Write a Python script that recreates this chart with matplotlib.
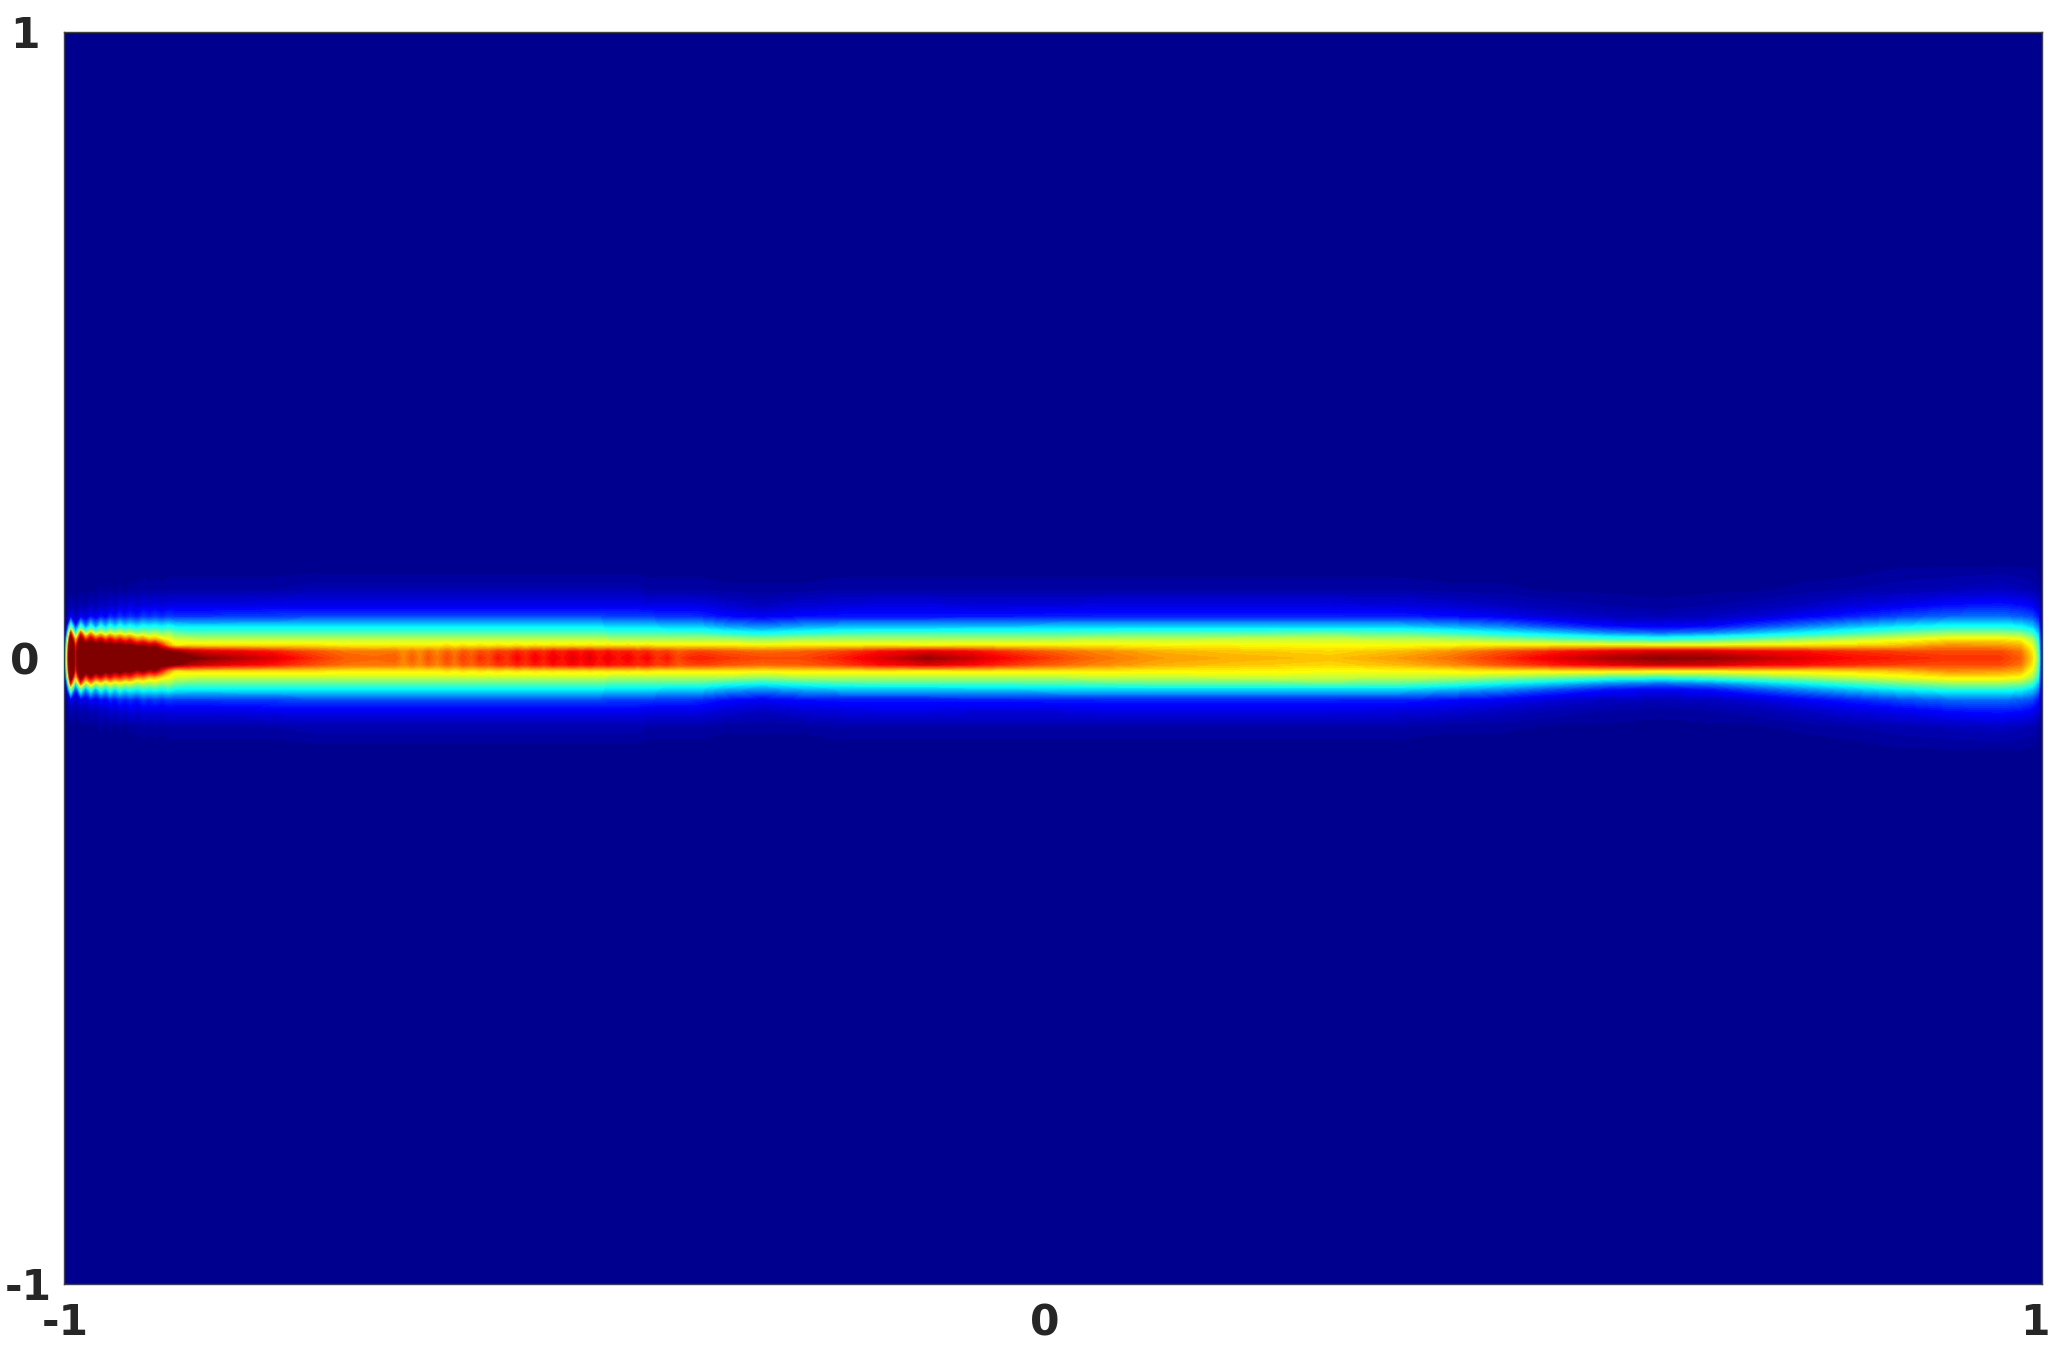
#!/usr/bin/env python

'''
Beam intensity map on [-1, 1] x [-1, 1], values read off the picture.
Columns are percent of full scale at the offsets in y_offsets, mirrored about y = 0.
Values over 100 saturate, they only keep the crests flat up to the thin troughs.
'''

import matplotlib
matplotlib.use('Agg')
import matplotlib.pyplot as plt
import matplotlib.transforms as mtrans
from matplotlib.colors import LinearSegmentedColormap
import numpy as np

#-----------------------------------------------------------------------------#
# data

y_offsets = [0.0, 0.01, 0.02, 0.03, 0.04, 0.05, 0.066, 0.084, 0.11, 0.15]

# the lobes at the entry side
entry_x = [
    -1.0, -0.9975, -0.9932, -0.9882, -0.9831, -0.9781, -0.9730, -0.9679, -0.9629,
    -0.9578, -0.9535, -0.9484, -0.9434, -0.9383, -0.9333, -0.9262, -0.9201,
    -0.9141, -0.9080, -0.9009, -0.8948, -0.8878,
]
entry_columns = [
    [0, 0, 0, 0, 0, 0, 0, 0, 0, 0],
    [55, 50, 42, 30, 16, 6, 2, 0, 0, 0],
    [130, 130, 125, 110, 85, 50, 12, 5, 1, 0],
    [85, 85, 80, 62, 35, 15, 5, 2, 0, 0],
    [130, 130, 125, 105, 80, 45, 12, 5, 1, 0],
    [110, 110, 105, 80, 50, 25, 8, 3, 1, 0],
    [130, 130, 120, 95, 70, 42, 14, 6, 1, 0],
    [115, 115, 105, 82, 52, 28, 10, 4, 1, 0],
    [130, 130, 115, 90, 63, 42, 15, 7, 2, 0],
    [115, 115, 102, 80, 52, 32, 12, 5, 1, 0],
    [125, 125, 108, 88, 62, 42, 17, 8, 2, 0],
    [115, 115, 100, 80, 55, 34, 14, 6, 1, 0],
    [125, 125, 106, 84, 60, 42, 18, 9, 2, 0],
    [115, 115, 98, 78, 55, 36, 15, 7, 1, 0],
    [120, 120, 103, 82, 58, 40, 18, 10, 2, 0],
    [110, 110, 94, 72, 52, 36, 15, 8, 2, 0],
    [115, 115, 100, 75, 55, 40, 19, 10, 3, 0],
    [110, 108, 92, 68, 52, 38, 17, 9, 2, 0],
    [115, 110, 96, 70, 55, 40, 19, 10, 3, 0],
    [105, 104, 84, 64, 50, 37, 17, 9, 2, 0],
    [110, 104, 72, 62, 53, 40, 19, 10, 3, 0],
    [105, 100, 64, 58, 48, 37, 18, 10, 3, 0],
]

# fading core before the ripples
fade_x = [-0.8726, -0.8554, -0.8220, -0.7887, -0.7513, -0.7159, -0.6856]
fade_columns = [
    [101, 94, 65, 57, 46, 36, 18, 10, 3, 0],
    [98, 91, 65, 56, 46, 36, 18, 10, 3, 0],
    [94, 88, 65, 56, 46, 36, 19, 10, 3, 0],
    [90, 85, 65, 56, 46, 36, 19, 11, 3, 0],
    [83, 80, 65, 56, 46, 36, 20, 11, 4, 0],
    [78, 76, 64, 56, 46, 36, 20, 11, 4, 0],
    [77, 75, 64, 56, 46, 36, 20, 11, 4, 0],
]

# the weak ripples, crest then trough
ripple_x = [
    -0.6653, -0.6567, -0.6481, -0.6400, -0.6320, -0.6224, -0.6127, -0.6047,
    -0.5966, -0.5880, -0.5794, -0.5703, -0.5612, -0.5516, -0.5420, -0.5329,
    -0.5238, -0.5147, -0.5056, -0.4960, -0.4864, -0.4773, -0.4682, -0.4591,
    -0.4500, -0.4399, -0.4298, -0.4202, -0.4105, -0.4004, -0.3903, -0.3797,
    -0.3691,
]
ripple_columns = [
    [78, 76, 64, 56, 46, 36, 20, 11, 4, 0],
    [74, 73, 64, 56, 46, 36, 20, 11, 4, 0],
    [78, 76, 64, 56, 46, 36, 20, 11, 4, 0],
    [74, 73, 64, 56, 46, 36, 20, 11, 4, 0],
    [79, 77, 64, 56, 46, 36, 20, 11, 4, 0],
    [75, 74, 64, 56, 46, 36, 20, 11, 4, 0],
    [80, 78, 65, 56, 46, 36, 20, 11, 4, 0],
    [76, 75, 64, 56, 46, 36, 20, 11, 4, 0],
    [81, 79, 65, 56, 46, 36, 20, 11, 4, 0],
    [78, 77, 64, 56, 46, 36, 20, 11, 4, 0],
    [83, 80, 65, 56, 46, 36, 20, 11, 4, 0],
    [80, 79, 64, 56, 46, 36, 20, 11, 4, 0],
    [85, 82, 65, 56, 46, 36, 20, 11, 4, 0],
    [82, 81, 64, 56, 46, 36, 20, 11, 4, 0],
    [87, 84, 65, 56, 46, 36, 20, 11, 4, 0],
    [83, 82, 64, 56, 46, 36, 20, 11, 4, 0],
    [88, 85, 65, 56, 46, 36, 20, 11, 4, 0],
    [84, 83, 64, 56, 46, 36, 20, 11, 4, 0],
    [89, 86, 65, 56, 46, 36, 20, 11, 4, 0],
    [85, 84, 64, 56, 46, 36, 20, 11, 4, 0],
    [90, 87, 65, 56, 46, 36, 20, 11, 4, 0],
    [86, 85, 64, 56, 46, 36, 20, 11, 4, 0],
    [90, 87, 65, 56, 46, 36, 20, 11, 4, 0],
    [85, 84, 64, 56, 46, 36, 20, 11, 4, 0],
    [89, 86, 65, 55, 45, 35, 19, 11, 4, 0],
    [85, 84, 64, 55, 45, 35, 19, 11, 4, 0],
    [88, 85, 65, 55, 45, 35, 19, 11, 4, 0],
    [84, 83, 64, 55, 45, 35, 19, 11, 4, 0],
    [87, 84, 65, 55, 45, 34, 19, 10, 3, 0],
    [82, 81, 64, 55, 45, 34, 18, 10, 3, 0],
    [85, 82, 64, 54, 44, 33, 18, 10, 3, 0],
    [80, 79, 64, 54, 44, 33, 18, 10, 3, 0],
    [83, 80, 64, 54, 44, 33, 18, 10, 3, 0],
]

# rest of the guide up to the exit
exit_x = [
    -0.3570, -0.3317, -0.2943, -0.256, -0.215, -0.175, -0.127, -0.084, -0.044,
    0.007, 0.047, 0.108, 0.179, 0.28, 0.351, 0.401, 0.452, 0.513, 0.563, 0.614,
    0.664, 0.705, 0.755, 0.806, 0.856, 0.907, 0.957, 0.978, 0.990, 0.996, 0.999,
    1.0,
]
exit_columns = [
    [84, 81, 64, 55, 44, 33, 17, 10, 3, 0],
    [82, 79, 64, 54, 41, 29, 14, 8, 2, 0],
    [80, 77, 63, 52, 38, 26, 12, 6, 2, 0],
    [80, 78, 64, 54, 41, 29, 14, 8, 2, 0],
    [84, 81, 64, 55, 43, 31, 15, 9, 3, 0],
    [90, 86, 64, 55, 44, 31, 15, 10, 3, 0],
    [97, 90, 63, 55, 44, 31, 15, 10, 3, 0],
    [92, 87, 64, 55, 44, 32, 15, 9, 3, 0],
    [86, 82, 64, 55, 44, 32, 15, 9, 3, 0],
    [80, 77, 64, 55, 44, 33, 16, 9, 3, 0],
    [76, 74, 64, 56, 45, 33, 16, 10, 3, 0],
    [72, 70, 63, 56, 46, 33, 16, 10, 3, 0],
    [70, 68, 63, 57, 46, 33, 16, 10, 3, 0],
    [68, 66, 62, 57, 47, 33, 16, 10, 3, 0],
    [72, 69, 62, 56, 46, 33, 16, 9, 3, 0],
    [76, 73, 63, 55, 43, 30, 14, 8, 2, 0],
    [82, 79, 64, 52, 38, 26, 12, 6, 2, 0],
    [90, 85, 64, 48, 32, 19, 8, 4, 1, 0],
    [95, 89, 64, 44, 26, 14, 6, 3, 1, 0],
    [98, 92, 63, 42, 23, 12, 5, 2, 1, 0],
    [97, 91, 63, 45, 26, 14, 6, 3, 1, 0],
    [94, 88, 64, 48, 31, 19, 8, 4, 1, 0],
    [90, 86, 65, 52, 37, 25, 12, 6, 2, 0],
    [86, 83, 66, 56, 43, 31, 16, 9, 3, 0],
    [84, 81, 68, 60, 48, 36, 20, 11, 4, 1],
    [82, 80, 73, 64, 52, 40, 23, 14, 5, 1],
    [82, 80, 72, 64, 52, 40, 24, 15, 6, 1],
    [78, 76, 70, 62, 50, 38, 22, 14, 5, 1],
    [66, 64, 60, 54, 44, 33, 20, 12, 4, 1],
    [50, 48, 45, 40, 32, 25, 15, 9, 3, 0],
    [15, 14, 13, 11, 9, 7, 4, 2, 1, 0],
    [0, 0, 0, 0, 0, 0, 0, 0, 0, 0],
]

tick_values = [-1, 0, 1]
tick_labels = ['-1', '0', '1']

#-----------------------------------------------------------------------------#
# plot

W, H = 2061, 1359
TEXT_COLOR = '#262626'
SPINE_COLOR = '#404040'
N_LEVELS = 64

# the MATLAB flavour of jet, starts a bit lighter than the matplotlib one
MATLAB_JET = LinearSegmentedColormap.from_list('matlab_jet', [
    (0.0, (0.0, 0.0, 0.5625)),
    (0.125, (0.0, 0.0, 1.0)),
    (0.375, (0.0, 1.0, 1.0)),
    (0.625, (1.0, 1.0, 0.0)),
    (0.875, (1.0, 0.0, 0.0)),
    (1.0, (0.5, 0.0, 0.0)),
], N=N_LEVELS)


def shift_label(fig, label, dx_px):
    offset = mtrans.ScaledTranslation(dx_px / fig.dpi, 0, fig.dpi_scale_trans)
    label.set_transform(label.get_transform() + offset)


def build_field():
    x = np.array(entry_x + fade_x + ripple_x + exit_x)
    half = np.array(entry_columns + fade_columns + ripple_columns + exit_columns, dtype=float)
    offsets = np.array(y_offsets)

    # mirror about y = 0 and close with the empty guide at y = +-1
    half = half.T
    zeros = np.zeros((1, half.shape[1]))
    field = np.vstack([zeros, half[:0:-1], half, zeros])
    y = np.concatenate([[-1.0], -offsets[:0:-1], offsets, [1.0]])
    return x, y, field


def main():
    fig = plt.figure(figsize=(W / 100, H / 100), dpi=100)
    ax = fig.add_axes([64 / W, 1 - 1284 / H, (2042 - 64) / W, (1284 - 32) / H])
    ax.set_facecolor(MATLAB_JET(0))

    x, y, field = build_field()
    levels = np.linspace(0, 100, N_LEVELS + 1)
    cmap = MATLAB_JET.copy()
    cmap.set_over(MATLAB_JET(N_LEVELS - 1))
    ax.contourf(x, y, field, levels=levels, cmap=cmap, extend='max', antialiased=False)
    ax.set_xlim(-1, 1)
    ax.set_ylim(-1, 1)

    for spine in ax.spines.values():
        spine.set_linewidth(1.0)
        spine.set_color(SPINE_COLOR)

    ax.set_xticks(tick_values)
    ax.set_xticklabels(tick_labels)
    ax.set_yticks(tick_values)
    ax.set_yticklabels(tick_labels, ha='center')
    ax.tick_params(axis='x', length=0, pad=13, labelsize=30.5, labelcolor=TEXT_COLOR)
    ax.tick_params(axis='y', length=0, pad=28, labelsize=30.5, labelcolor=TEXT_COLOR)

    for label in ax.get_xticklabels() + ax.get_yticklabels():
        label.set_fontweight('bold')
    for label, dx in zip(ax.get_xticklabels(), [1, -8, -7]):
        shift_label(fig, label, dx)
    shift_label(fig, ax.get_yticklabels()[0], 3)

    fig.savefig('out.png', dpi=100)


if __name__ == '__main__':
    main()
